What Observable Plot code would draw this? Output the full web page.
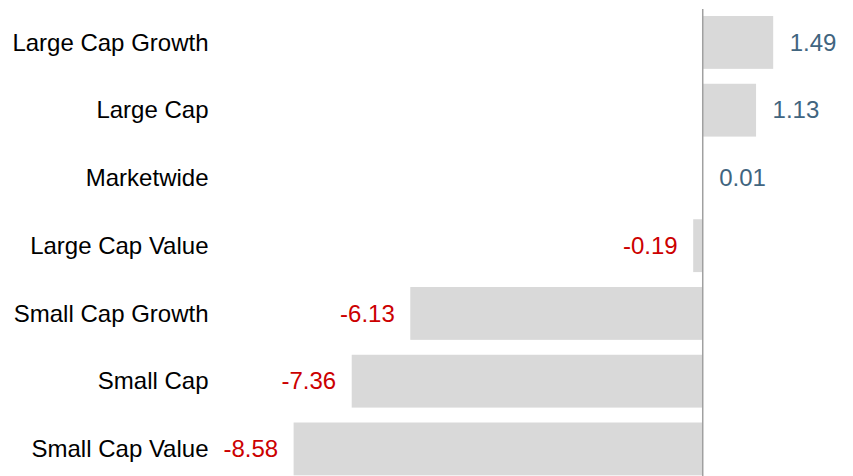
<!DOCTYPE html>
<html>
<head>
<meta charset="utf-8">
<script src="https://cdn.jsdelivr.net/npm/d3@7"></script>
<script src="https://cdn.jsdelivr.net/npm/@observablehq/plot@0.6"></script>
<style>
  html, body { margin: 0; padding: 0; background: #fff; }
  #chart svg { display: block; }
</style>
</head>
<body>
<div id="chart"></div>
<script>
const categories = ["Large Cap Growth", "Large Cap", "Marketwide", "Large Cap Value", "Small Cap Growth", "Small Cap", "Small Cap Value"];
const values = [1.49, 1.13, 0.01, -0.19, -6.13, -7.36, -8.58];
const valueLabels = ["1.49", "1.13", "0.01", "-0.19", "-6.13", "-7.36", "-8.58"];

const data = categories.map((c, i) => ({category: c, value: values[i], label: valueLabels[i]}));
const pos = data.filter(d => d.value >= 0);
const neg = data.filter(d => d.value < 0);

const font = "Liberation Sans, Arial, sans-serif";

const chart = Plot.plot({
  width: 853,
  height: 476,
  marginTop: 9,
  marginBottom: 0,
  marginLeft: 212,
  marginRight: 0,
  style: {fontFamily: font, fontSize: "24px", background: "#fff", color: "#000"},
  x: {domain: [-8.58, 1.49], range: [293.6, 773.2], axis: null},
  y: {domain: categories, range: [8.55, 482.8], paddingInner: 0.22, paddingOuter: 0.11, round: false, label: null},
  marks: [
    Plot.barX(data, {y: "category", x1: 0, x2: "value", fill: "#d9d9d9"}),
    Plot.ruleX([0], {stroke: "#a0a0a0", strokeWidth: 1.5}),
    Plot.axisY({tickSize: 0, tickPadding: 4, fontSize: 24, fill: "#000", label: null}),
    Plot.text(pos, {y: "category", x: "value", text: "label", textAnchor: "start", dx: 16, fill: "#41657f", fontSize: 24}),
    Plot.text(neg, {y: "category", x: "value", text: "label", textAnchor: "end", dx: -16, fill: "#cc0000", fontSize: 24})
  ]
});
document.getElementById("chart").appendChild(chart);
</script>
</body>
</html>
